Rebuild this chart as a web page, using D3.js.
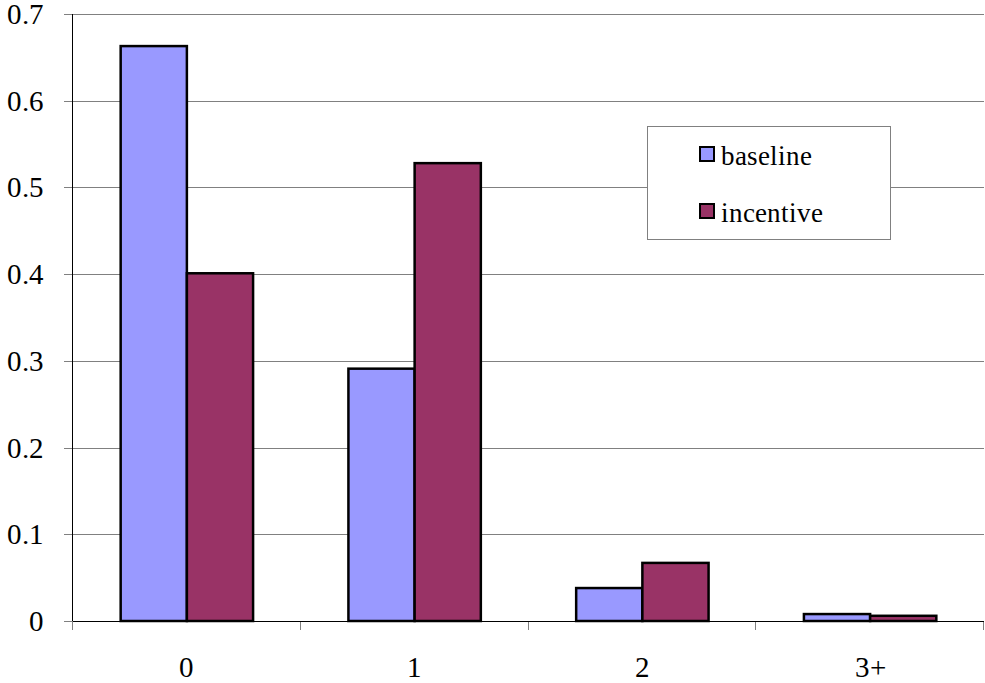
<!DOCTYPE html>
<html><head><meta charset="utf-8">
<script src="https://cdn.jsdelivr.net/npm/d3@7"></script>
<style>
@font-face { font-family: "ChartSerif"; src: local("Liberation Serif"), local("LiberationSerif"), local("Liberation Serif Regular"), local("Times New Roman"); }
body{margin:0;background:#fff}
svg text.t { font-family: "ChartSerif", "Liberation Serif", "Times New Roman", Tinos, serif !important; }
</style>
</head><body>
<svg id="c" width="985" height="683"></svg>
<script>
const categories = ["0", "1", "2", "3+"];
const seriesNames = ["baseline", "incentive"];
const baseline = [0.663, 0.291, 0.038, 0.008];
const incentive = [0.401, 0.528, 0.067, 0.006];
const yTicks = [0, 0.1, 0.2, 0.3, 0.4, 0.5, 0.6, 0.7];
const colors = ["#9999FF", "#993366"];

const svg = d3.select("#c");
const m = {l: 73, r: 1, t: 14, b: 62};
const W = 985, H = 683;

const x = d3.scaleBand().domain(categories).range([m.l, W - m.r]).paddingInner(0).paddingOuter(0);
const x1 = d3.scaleBand().domain(seriesNames).range([0, x.bandwidth()]).paddingInner(0).paddingOuter(0.72);
const y = d3.scaleLinear().domain([0, 0.7]).range([H - m.b, m.t]);

// gridlines
svg.append("g").selectAll("line").data(yTicks.filter(d => d > 0)).join("line")
  .attr("x1", m.l).attr("x2", W - m.r)
  .attr("y1", d => Math.round(y(d)) + 0.5).attr("y2", d => Math.round(y(d)) + 0.5)
  .attr("stroke", "#808080").attr("stroke-width", 1);

// y tick marks
svg.append("g").selectAll("line").data(yTicks).join("line")
  .attr("x1", m.l - 9).attr("x2", m.l)
  .attr("y1", d => Math.round(y(d)) + 0.5).attr("y2", d => Math.round(y(d)) + 0.5)
  .attr("stroke", "#808080").attr("stroke-width", 1);

// y labels
svg.selectAll("text.yl").data(yTicks).join("text").attr("class", "t yl")
  .attr("x", 44).attr("y", d => y(d) + 10)
  .attr("text-anchor", "end")
  .style("font-size", "29px")
  .text(d => d === 0 ? "0" : d3.format(".1f")(d));

// bars
const data = categories.map((c, i) => ({c, vals: [baseline[i], incentive[i]]}));
const g = svg.append("g").selectAll("g").data(data).join("g")
  .attr("transform", d => `translate(${x(d.c)},0)`);
g.selectAll("rect").data(d => d.vals.map((v, j) => ({v, s: seriesNames[j], j}))).join("rect")
  .attr("x", d => x1(d.s)).attr("width", x1.bandwidth())
  .attr("y", d => y(d.v)).attr("height", d => y(0) - y(d.v))
  .attr("fill", d => colors[d.j]).attr("stroke", "#000").attr("stroke-width", 2.5);

// x tick marks
const xt = categories.map(c => x(c)).concat([x(categories[categories.length - 1]) + x.bandwidth()]);
svg.append("g").selectAll("line").data(xt).join("line")
  .attr("x1", d => Math.round(d) - 0.5).attr("x2", d => Math.round(d) - 0.5)
  .attr("y1", y(0)).attr("y2", y(0) + 9)
  .attr("stroke", "#808080").attr("stroke-width", 1);

// axes lines
svg.append("line").attr("x1", m.l - 0.5).attr("x2", m.l - 0.5).attr("y1", m.t).attr("y2", y(0))
  .attr("stroke", "#000").attr("stroke-width", 1);
svg.append("line").attr("x1", m.l).attr("x2", W - m.r).attr("y1", Math.round(y(0)) + 0.5).attr("y2", Math.round(y(0)) + 0.5)
  .attr("stroke", "#000").attr("stroke-width", 1);

// x labels
svg.selectAll("text.xl").data(categories).join("text").attr("class", "t xl")
  .attr("x", d => x(d) + x.bandwidth() / 2).attr("y", 677)
  .attr("text-anchor", "middle")
  .style("font-size", "29px")
  .text(d => d);

// legend
svg.append("rect").attr("x", 647.5).attr("y", 126.5).attr("width", 243).attr("height", 113)
  .attr("fill", "#fff").attr("stroke", "#808080").attr("stroke-width", 1);
svg.selectAll("rect.sw").data(seriesNames).join("rect").attr("class", "sw")
  .attr("x", 700).attr("y", (d, i) => 147 + i * 57).attr("width", 14).attr("height", 14)
  .attr("fill", (d, i) => colors[i]).attr("stroke", "#000").attr("stroke-width", 2);
svg.selectAll("text.lt").data(seriesNames).join("text").attr("class", "t lt")
  .attr("x", 721).attr("y", (d, i) => 165 + i * 57)
  .style("font-size", "27px").text(d => d);
</script>
</body></html>
